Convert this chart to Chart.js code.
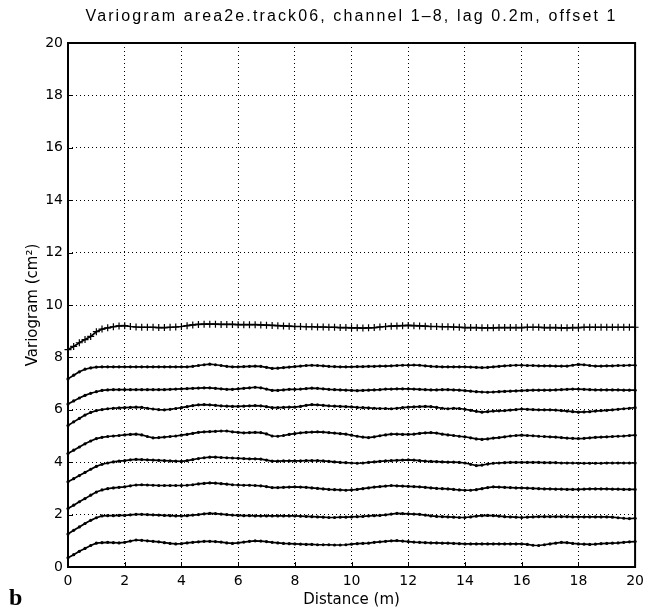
<!DOCTYPE html>
<html>
<head>
<meta charset="utf-8">
<script src="https://cdn.jsdelivr.net/npm/chart.js@4.4.1/dist/chart.umd.min.js"></script>
<style>
    html, body { margin: 0; padding: 0; background: #fff; }
    #wrap { position: relative; width: 650px; height: 609px; }
</style>
</head>
<body>
<div id="wrap"><canvas id="variogram" width="650" height="609"></canvas></div>
<script>

/* =========================
   DATA
========================= */

const TITLE = "Variogram area2e.track06, channel 1\u20138, lag 0.2m, offset 1";
const LAG_STEP = 0.2;
const xTicks = [0, 2, 4, 6, 8, 10, 12, 14, 16, 18, 20];
const yTicks = [0, 2, 4, 6, 8, 10, 12, 14, 16, 18, 20];

const ch1 = [0.35,0.47,0.60,0.71,0.82,0.91,0.93,0.94,0.93,0.92,
             0.94,0.99,1.03,1.02,1.00,0.98,0.96,0.93,0.90,0.88,
             0.89,0.92,0.94,0.96,0.98,0.98,0.97,0.95,0.92,0.90,
             0.92,0.95,0.98,1.00,0.99,0.97,0.94,0.92,0.90,0.89,
             0.88,0.87,0.86,0.86,0.85,0.85,0.85,0.84,0.84,0.85,
             0.87,0.89,0.90,0.91,0.94,0.96,0.98,1.00,1.01,0.99,
             0.97,0.95,0.94,0.93,0.92,0.92,0.91,0.91,0.90,0.89,
             0.88,0.88,0.88,0.88,0.88,0.88,0.88,0.88,0.88,0.88,
             0.88,0.86,0.83,0.82,0.85,0.88,0.91,0.94,0.93,0.90,
             0.88,0.87,0.86,0.87,0.89,0.90,0.91,0.92,0.94,0.96,
             0.97];

const ch2 = [1.26,1.40,1.53,1.66,1.78,1.88,1.95,1.96,1.96,1.97,
             1.97,1.99,2.01,2.01,2.00,1.99,1.98,1.97,1.96,1.95,
             1.95,1.96,1.98,2.00,2.03,2.05,2.04,2.02,2.00,1.98,
             1.97,1.96,1.96,1.95,1.95,1.95,1.95,1.95,1.95,1.95,
             1.95,1.94,1.93,1.92,1.91,1.90,1.89,1.89,1.90,1.90,
             1.91,1.92,1.93,1.95,1.96,1.97,1.99,2.02,2.05,2.04,
             2.03,2.02,2.01,1.98,1.95,1.93,1.92,1.91,1.90,1.89,
             1.89,1.91,1.94,1.96,1.97,1.96,1.94,1.92,1.91,1.90,
             1.89,1.90,1.91,1.92,1.92,1.92,1.92,1.92,1.92,1.91,
             1.91,1.91,1.91,1.91,1.91,1.91,1.90,1.88,1.86,1.85,
             1.86];

const ch3 = [2.23,2.36,2.49,2.61,2.74,2.86,2.94,2.99,3.02,3.04,
             3.06,3.10,3.13,3.14,3.13,3.12,3.11,3.11,3.11,3.11,
             3.11,3.12,3.14,3.17,3.19,3.21,3.20,3.18,3.16,3.14,
             3.13,3.12,3.12,3.11,3.10,3.07,3.03,3.03,3.04,3.05,
             3.06,3.05,3.04,3.02,3.00,2.98,2.96,2.95,2.94,2.93,
             2.94,2.96,2.99,3.02,3.05,3.07,3.09,3.11,3.10,3.09,
             3.08,3.07,3.06,3.04,3.02,3.00,2.99,2.98,2.96,2.94,
             2.93,2.93,2.95,2.99,3.03,3.06,3.05,3.04,3.03,3.02,
             3.02,3.01,3.00,2.99,2.98,2.98,2.97,2.97,2.96,2.96,
             2.96,2.97,2.98,2.98,2.98,2.98,2.97,2.97,2.96,2.96,
             2.96];

const ch4 = [3.25,3.37,3.49,3.61,3.73,3.84,3.92,3.97,4.01,4.04,
             4.06,4.09,4.11,4.10,4.09,4.08,4.07,4.06,4.05,4.04,
             4.03,4.06,4.10,4.14,4.17,4.19,4.19,4.18,4.17,4.16,
             4.15,4.14,4.13,4.13,4.12,4.08,4.04,4.04,4.05,4.05,
             4.05,4.05,4.06,4.06,4.06,4.05,4.03,4.01,3.99,3.98,
             3.97,3.96,3.97,3.99,4.01,4.03,4.05,4.06,4.07,4.08,
             4.09,4.08,4.06,4.04,4.03,4.02,4.01,4.00,4.00,3.99,
             3.97,3.92,3.87,3.89,3.93,3.96,3.97,3.98,3.99,3.99,
             3.99,3.99,3.99,3.99,3.98,3.98,3.98,3.97,3.97,3.97,
             3.96,3.96,3.96,3.96,3.96,3.97,3.97,3.97,3.97,3.97,
             3.97];

const ch5 = [4.33,4.46,4.58,4.70,4.81,4.90,4.95,4.98,5.00,5.02,
             5.04,5.06,5.07,5.04,4.98,4.93,4.94,4.96,4.98,5.00,
             5.03,5.06,5.10,5.14,5.16,5.17,5.18,5.19,5.19,5.16,
             5.14,5.12,5.13,5.14,5.13,5.08,5.00,4.99,5.02,5.06,
             5.09,5.12,5.14,5.15,5.16,5.15,5.13,5.11,5.09,5.07,
             5.03,4.99,4.96,4.94,4.97,5.01,5.04,5.07,5.07,5.06,
             5.06,5.07,5.10,5.12,5.13,5.11,5.07,5.04,5.02,4.99,
             4.97,4.93,4.89,4.87,4.89,4.92,4.94,4.97,5.00,5.02,
             5.03,5.02,5.01,4.99,4.98,4.97,4.96,4.94,4.92,4.91,
             4.90,4.91,4.93,4.95,4.96,4.97,4.98,4.99,5.00,5.02,
             5.03];

const ch6 = [5.40,5.54,5.67,5.80,5.90,5.97,6.01,6.04,6.06,6.07,
             6.08,6.09,6.10,6.09,6.06,6.03,6.01,6.00,6.02,6.05,
             6.08,6.12,6.16,6.19,6.20,6.19,6.17,6.15,6.14,6.13,
             6.13,6.14,6.15,6.16,6.15,6.12,6.08,6.08,6.09,6.10,
             6.10,6.13,6.17,6.20,6.19,6.17,6.15,6.14,6.13,6.12,
             6.11,6.09,6.08,6.07,6.06,6.05,6.05,6.04,6.06,6.08,
             6.10,6.11,6.12,6.13,6.12,6.09,6.06,6.04,6.06,6.05,
             6.02,5.98,5.94,5.91,5.93,5.95,5.96,5.97,5.99,6.01,
             6.03,6.02,6.01,6.00,6.00,6.00,5.99,5.97,5.95,5.93,
             5.91,5.92,5.93,5.95,5.97,5.98,6.00,6.02,6.04,6.06,
             6.08];

const ch7 = [6.22,6.34,6.45,6.55,6.63,6.69,6.74,6.76,6.77,6.77,
             6.77,6.77,6.77,6.77,6.77,6.77,6.77,6.77,6.78,6.79,
             6.80,6.81,6.82,6.83,6.84,6.84,6.82,6.80,6.78,6.78,
             6.80,6.82,6.84,6.86,6.84,6.79,6.74,6.74,6.76,6.78,
             6.78,6.79,6.81,6.83,6.82,6.80,6.78,6.77,6.76,6.75,
             6.74,6.73,6.74,6.75,6.76,6.77,6.79,6.79,6.80,6.80,
             6.80,6.79,6.78,6.77,6.76,6.76,6.77,6.77,6.76,6.75,
             6.73,6.71,6.69,6.68,6.67,6.68,6.69,6.70,6.71,6.72,
             6.73,6.74,6.75,6.75,6.75,6.75,6.76,6.77,6.78,6.79,
             6.79,6.78,6.77,6.76,6.76,6.76,6.76,6.76,6.75,6.75,
             6.75];

const ch8 = [7.18,7.32,7.45,7.55,7.60,7.63,7.64,7.64,7.64,7.64,
             7.64,7.64,7.64,7.64,7.64,7.64,7.64,7.64,7.64,7.64,
             7.64,7.64,7.66,7.69,7.72,7.74,7.72,7.69,7.66,7.64,
             7.64,7.65,7.66,7.67,7.66,7.62,7.58,7.59,7.61,7.63,
             7.65,7.67,7.69,7.70,7.69,7.68,7.66,7.65,7.64,7.64,
             7.64,7.65,7.65,7.66,7.66,7.67,7.67,7.68,7.69,7.70,
             7.70,7.71,7.70,7.68,7.66,7.65,7.64,7.64,7.64,7.64,
             7.64,7.63,7.62,7.61,7.62,7.64,7.66,7.68,7.69,7.70,
             7.70,7.69,7.69,7.68,7.68,7.68,7.67,7.67,7.67,7.70,
             7.73,7.72,7.69,7.67,7.67,7.68,7.68,7.69,7.69,7.70,
             7.70];

const ch9 = [8.30,8.42,8.56,8.68,8.80,8.98,9.08,9.13,9.17,9.20,
             9.21,9.18,9.16,9.15,9.15,9.15,9.14,9.14,9.15,9.16,
             9.18,9.21,9.24,9.26,9.27,9.27,9.27,9.26,9.26,9.26,
             9.25,9.25,9.25,9.25,9.24,9.23,9.22,9.21,9.20,9.19,
             9.18,9.18,9.17,9.17,9.16,9.16,9.15,9.15,9.14,9.14,
             9.13,9.13,9.12,9.13,9.14,9.16,9.18,9.19,9.20,9.21,
             9.22,9.21,9.20,9.19,9.18,9.18,9.17,9.17,9.16,9.15,
             9.14,9.14,9.14,9.13,9.13,9.13,9.14,9.14,9.14,9.14,
             9.14,9.15,9.15,9.15,9.14,9.14,9.14,9.13,9.13,9.14,
             9.14,9.15,9.15,9.15,9.15,9.15,9.15,9.15,9.15,9.15,
             9.15];

const curves = [ch1, ch2, ch3, ch4, ch5, ch6, ch7, ch8, ch9];


/* =========================
   DATASETS
========================= */

const lags = ch1.map((_, i) => +(i * LAG_STEP).toFixed(1));

function makeDataset(values, crosses) {

    return {
        data: values.map((v, i) => ({ x: lags[i], y: v })),
        borderColor: "#000",
        backgroundColor: "#000",
        borderWidth: 1.7,
        tension: 0,
        clip: false,
        pointStyle: crosses ? "cross" : "circle",
        pointRadius: crosses ? 3.5 : 1.6,
        pointBorderWidth: crosses ? 1.2 : 0,
        pointBorderColor: "#000",
        pointBackgroundColor: "#000"
    };

}

const datasets = curves.map((c, i) => makeDataset(c, i === curves.length - 1));


/* =========================
   DECOR: FRAME, TITLE, "b"
========================= */

const decor = {

    id: "decor",

    afterDraw(chart) {

        const { ctx, chartArea: a, scales } = chart;

        ctx.save();

        // inward tick marks
        ctx.strokeStyle = "#000";
        ctx.lineWidth = 1;
        ctx.beginPath();
        xTicks.forEach(t => {
            const px = Math.round(scales.x.getPixelForValue(t)) + 0.5;
            ctx.moveTo(px, a.bottom);
            ctx.lineTo(px, a.bottom - 5);
        });
        yTicks.forEach(t => {
            const py = Math.round(scales.y.getPixelForValue(t)) + 0.5;
            ctx.moveTo(a.left, py);
            ctx.lineTo(a.left + 5, py);
        });
        ctx.stroke();

        // frame
        ctx.lineWidth = 2;
        ctx.strokeRect(a.left, a.top, a.right - a.left, a.bottom - a.top);

        // title, stretched to the width of the original lettering
        ctx.fillStyle = "#000";
        ctx.font = '16px "Liberation Sans"';
        ctx.textAlign = "center";
        ctx.textBaseline = "middle";
        const w = ctx.measureText(TITLE).width;
        ctx.letterSpacing = ((532 - w) / TITLE.length).toFixed(2) + "px";
        ctx.fillText(TITLE, (a.left + a.right) / 2, 17);
        ctx.letterSpacing = "0px";

        // panel letter
        ctx.font = 'bold 24px "Liberation Serif"';
        ctx.textAlign = "left";
        ctx.textBaseline = "alphabetic";
        ctx.fillText("b", 9, 605);

        ctx.restore();

    }

};


/* =========================
   CHART
========================= */

const tickFont = { family: "DejaVu Sans", size: 14 };
const titleFont = { family: "DejaVu Sans", size: 15 };

new Chart(document.getElementById("variogram"), {

    type: "line",

    data: { datasets },

    options: {
        responsive: false,
        animation: false,
        layout: { padding: { top: 43, right: 13, left: 0, bottom: 0 } },
        plugins: {
            legend: { display: false },
            tooltip: { enabled: false }
        },
        scales: {
            x: {
                type: "linear",
                min: 0,
                max: 20,
                afterBuildTicks: s => { s.ticks = xTicks.map(v => ({ value: v })); },
                afterFit: s => { s.height = 42; },
                ticks: { color: "#000", font: tickFont, padding: 6, maxRotation: 0 },
                grid: { color: "#000", lineWidth: 1, drawTicks: false },
                border: { display: false, dash: [1, 3] },
                title: {
                    display: true,
                    text: "Distance (m)",
                    color: "#000",
                    font: titleFont,
                    padding: { top: 0, bottom: 0 }
                }
            },
            y: {
                min: 0,
                max: 20,
                afterBuildTicks: s => { s.ticks = yTicks.map(v => ({ value: v })); },
                afterFit: s => { s.width = 68; },
                ticks: { color: "#000", font: tickFont, padding: 5 },
                grid: { color: "#000", lineWidth: 1, drawTicks: false },
                border: { display: false, dash: [1, 3] },
                title: {
                    display: true,
                    text: "Variogram (cm\u00b2)",
                    color: "#000",
                    font: titleFont,
                    padding: { top: 24, bottom: 0 }
                }
            }
        }
    },

    plugins: [decor]

});

</script>
</body>
</html>
